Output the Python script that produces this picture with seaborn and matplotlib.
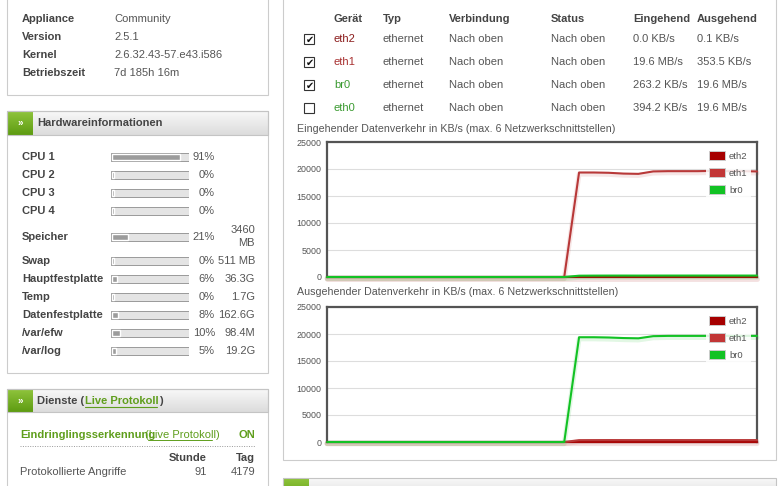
import numpy as np
import pandas as pd
import matplotlib
matplotlib.use("Agg")
import matplotlib.pyplot as plt
import matplotlib.patheffects as pe
from matplotlib.patches import Rectangle
import seaborn as sns

W, H = 779, 486

# ---- data ----
sys_labels = ["Appliance", "Version", "Kernel", "Betriebszeit"]
sys_values = ["Community", "2.5.1", "2.6.32.43-57.e43.i586", "7d 185h 16m"]

hw_labels = ["CPU 1", "CPU 2", "CPU 3", "CPU 4", "Speicher", "Swap",
             "Hauptfestplatte", "Temp", "Datenfestplatte", "/var/efw", "/var/log"]
hw_pct = [91, 0, 0, 0, 21, 0, 6, 0, 8, 10, 5]
hw_size = ["", "", "", "", "3460\nMB", "511 MB", "36.3G", "1.7G", "162.6G", "98.4M", "19.2G"]

if_cols = ["Gerät", "Typ", "Verbindung", "Status", "Eingehend", "Ausgehend"]
if_devices = ["eth2", "eth1", "br0", "eth0"]
if_checked = [True, True, True, False]
if_type = ["ethernet", "ethernet", "ethernet", "ethernet"]
if_link = ["Nach oben", "Nach oben", "Nach oben", "Nach oben"]
if_status = ["Nach oben", "Nach oben", "Nach oben", "Nach oben"]
if_in = ["0.0 KB/s", "19.6 MB/s", "263.2 KB/s", "394.2 KB/s"]
if_out = ["0.1 KB/s", "353.5 KB/s", "19.6 MB/s", "19.6 MB/s"]

t = list(range(30))
in_eth2 = [0, 0, 0, 0, 0, 0, 0, 0, 0, 0, 0, 0, 0, 0, 0, 0, 0,
           0, 0, 0, 0, 0, 0, 0, 0, 0, 0, 0, 0, 0]
in_eth1 = [0, 0, 0, 0, 0, 0, 0, 0, 0, 0, 0, 0, 0, 0, 0, 0, 0,
           19350, 19350, 19300, 19150, 19100, 19550, 19600, 19600, 19600, 19650, 19600, 19600, 19550]
in_br0 = [0, 0, 0, 0, 0, 0, 0, 0, 0, 0, 0, 0, 0, 0, 0, 0, 0,
          240, 255, 260, 262, 258, 260, 263, 262, 264, 263, 262, 263, 263]
out_eth2 = [0, 0, 0, 0, 0, 0, 0, 0, 0, 0, 0, 0, 0, 0, 0, 0, 0,
            0.1, 0.1, 0.1, 0.1, 0.1, 0.1, 0.1, 0.1, 0.1, 0.1, 0.1, 0.1, 0.1]
out_eth1 = [0, 0, 0, 0, 0, 0, 0, 0, 0, 0, 0, 0, 0, 0, 0, 0, 0,
            340, 350, 355, 352, 350, 353, 354, 353, 353, 354, 353, 353, 353]
out_br0 = [0, 0, 0, 0, 0, 0, 0, 0, 0, 0, 0, 0, 0, 0, 0, 0, 0,
           19400, 19400, 19350, 19250, 19200, 19600, 19650, 19650, 19650, 19650, 19650, 19650, 19650]

series = ["eth2", "eth1", "br0"]
palette = {"eth2": "#a60000", "eth1": "#b83838", "br0": "#12c224"}
legend_colors = {"eth2": "#a60000", "eth1": "#c23636", "br0": "#12c224"}
dev_colors = ["#8b1c1c", "#a83030", "#3a9a30", "#3a9a30"]

sns.set_style("white")
plt.rcParams["font.family"] = ["Liberation Sans", "DejaVu Sans"]

fig = plt.figure(figsize=(W / 100, H / 100), dpi=100)
bg = fig.add_axes([0, 0, 1, 1], zorder=-1)
bg.set_xlim(0, W)
bg.set_ylim(H, 0)
bg.axis("off")

LBL = "#444444"
VAL = "#555555"
GREEN = "#5f9e1c"


def grad(x0, x1, y0, y1, c_top, c_bot):
    a = np.array(matplotlib.colors.to_rgb(c_top))
    b = np.array(matplotlib.colors.to_rgb(c_bot))
    k = np.linspace(0, 1, 32)[:, None, None]
    img = a * (1 - k) + b * k
    img = np.repeat(img, 2, axis=1)
    bg.imshow(img, extent=(x0, x1, y1, y0), aspect="auto", zorder=1)


def panel_header(x0, x1, y0, y1, title=None, arrow=True):
    grad(x0 + 26, x1, y0, y1, "#f8f8f8", "#dcdcdc")
    grad(x0, x0 + 26, y0, y1, "#8fc43c", "#5e9c12")
    bg.add_patch(Rectangle((x0, y0), x1 - x0, y1 - y0, fill=False, ec="#c4c4c4", lw=0.8, zorder=2))
    if arrow:
        bg.text(x0 + 13, (y0 + y1) / 2, "»", color="white", fontsize=7, fontweight="bold",
                ha="center", va="center", zorder=3)
    if title:
        bg.text(x0 + 30, (y0 + y1) / 2, title, color=LBL, fontsize=8, fontweight="bold",
                va="center", zorder=3)


def box(x0, x1, y0, y1):
    bg.add_patch(Rectangle((x0, y0), x1 - x0, y1 - y0, fill=False, ec="#cccccc", lw=0.8, zorder=2))


# ---- panel 1: system info ----
box(7, 268, -5, 95)
for i, (lab, val) in enumerate(zip(sys_labels, sys_values)):
    y = 19 + i * 18
    bg.text(22, y, lab, color=LBL, fontsize=8, fontweight="bold", va="center")
    bg.text(114, y, val, color=VAL, fontsize=8, va="center")

# ---- panel 2: hardware ----
box(7, 268, 111, 373)
panel_header(7, 268, 111, 135, "Hardwareinformationen")
hw_y = [157, 175, 193, 211, 237, 261, 279, 297, 315, 333, 351]
for lab, pct, size, y in zip(hw_labels, hw_pct, hw_size, hw_y):
    bg.text(22, y, lab, color=LBL, fontsize=8, fontweight="bold", va="center")
    bg.text(215, y, f"{pct}%", color=VAL, fontsize=8, ha="right", va="center")
    if "\n" in size:
        top, bot = size.split("\n")
        bg.text(255, y - 7, top, color=VAL, fontsize=8, ha="right", va="center")
        bg.text(255, y + 6, bot, color=VAL, fontsize=8, ha="right", va="center")
    elif size:
        bg.text(255, y, size, color=VAL, fontsize=8, ha="right", va="center")

ab = fig.add_axes([111 / W, 1 - 380 / H, 78 / W, 240 / H])
ab.set_xlim(0, 100)
ab.set_ylim(380, 140)
ab.axis("off")
ab.barh(hw_y, [100] * len(hw_y), height=7.5, color="#e4e4e4", edgecolor="#9a9a9a", linewidth=0.7)
ab.barh(hw_y, np.maximum(hw_pct, 3) * 0.95, left=1.4, height=5.2, color="#9c9c9c")

# ---- panel 3: services ----
box(7, 268, 389, 500)
panel_header(7, 268, 389, 412)
bg.text(37, 401, "Dienste (", color=LBL, fontsize=8, fontweight="bold", va="center")
bg.text(85, 401, "Live Protokoll", color=GREEN, fontsize=8, fontweight="bold", va="center")
bg.plot([85, 157], [406.5, 406.5], color=GREEN, lw=0.8)
bg.text(159, 401, ")", color=LBL, fontsize=8, fontweight="bold", va="center")
bg.text(20, 435, "Eindringlingsserkennung", color=GREEN, fontsize=8, fontweight="bold", va="center")
bg.text(145, 435, "(Live Protokoll)", color=GREEN, fontsize=8, va="center")
bg.plot([148, 212], [440, 440], color=GREEN, lw=0.7)
bg.text(255, 435, "ON", color=GREEN, fontsize=8, fontweight="bold", ha="right", va="center")
bg.plot([20, 255], [446, 446], color="#999999", lw=0.7, ls=(0, (1, 1.5)))
bg.text(207, 458, "Stunde", color=LBL, fontsize=8, fontweight="bold", ha="right", va="center")
bg.text(255, 458, "Tag", color=LBL, fontsize=8, fontweight="bold", ha="right", va="center")
bg.text(20, 472, "Protokollierte Angriffe", color=VAL, fontsize=8, va="center")
bg.text(207, 472, "91", color=VAL, fontsize=8, ha="right", va="center")
bg.text(255, 472, "4179", color=VAL, fontsize=8, ha="right", va="center")

# ---- right panel: network ----
box(283, 776, -5, 460)
panel_header(283, 776, 478, 500, arrow=False)
col_x = [334, 383, 449, 551, 633, 697]
for cx, c in zip(col_x, if_cols):
    bg.text(cx, 19, c, color=LBL, fontsize=8, fontweight="bold", va="center")
for i, dev in enumerate(if_devices):
    y = 39 + i * 23
    bg.add_patch(Rectangle((304, y - 5), 10, 10, fc="white", ec="#333333", lw=0.8, zorder=3))
    if if_checked[i]:
        bg.text(309.5, y + 0.5, "✔", family="DejaVu Sans", fontsize=7, color="#111111",
                ha="center", va="center", zorder=4)
    bg.text(col_x[0], y, dev, color=dev_colors[i], fontsize=8, va="center")
    for cx, v in zip(col_x[1:], [if_type[i], if_link[i], if_status[i], if_in[i], if_out[i]]):
        bg.text(cx, y, v, color=VAL, fontsize=8, va="center")

bg.text(297, 129, "Eingehender Datenverkehr in KB/s (max. 6 Netzwerkschnittstellen)",
        color=VAL, fontsize=7.7, va="center")
bg.text(297, 292, "Ausgehender Datenverkehr in KB/s (max. 6 Netzwerkschnittstellen)",
        color=VAL, fontsize=7.7, va="center")

df_in = pd.DataFrame({"t": t * 3, "kbs": in_eth2 + in_eth1 + in_br0,
                      "dev": ["eth2"] * 30 + ["eth1"] * 30 + ["br0"] * 30})
df_out = pd.DataFrame({"t": t * 3, "kbs": out_eth2 + out_eth1 + out_br0,
                       "dev": ["eth2"] * 30 + ["eth1"] * 30 + ["br0"] * 30})


def traffic(df, top):
    ax = fig.add_axes([327 / W, 1 - (top + 135) / H, 430 / W, 135 / H])
    sns.lineplot(data=df, x="t", y="kbs", hue="dev", hue_order=series, palette=palette,
                 ax=ax, legend=False, lw=1.5)
    for ln in ax.get_lines():
        ln.set_zorder(3)
        ln.set_clip_on(False)
        ln.set_path_effects([pe.SimpleLineShadow(offset=(0, -1.2), shadow_color=ln.get_color(),
                                                 alpha=0.12, linewidth=3.5), pe.Normal()])
    ax.set_xlim(0, 29)
    ax.set_ylim(0, 25000)
    ax.set_yticks([0, 5000, 10000, 15000, 20000, 25000])
    ax.set_xticks([])
    ax.set_xlabel("")
    ax.set_ylabel("")
    ax.yaxis.grid(True, color="#dddddd", lw=0.8)
    ax.tick_params(axis="y", labelsize=6.4, colors="#545454", length=0, pad=4)
    for s in ax.spines.values():
        s.set_color("#545454")
        s.set_linewidth(1.6)
    handles = [Rectangle((0, 0), 1, 1, fc=legend_colors[s], ec="#cccccc", lw=0.7) for s in series]
    leg = ax.legend(handles, series, loc="upper right", bbox_to_anchor=(0.985, 0.955), fontsize=6.8,
                    frameon=True, facecolor="white", edgecolor="none", framealpha=0.85,
                    handlelength=1.7, handleheight=1.15, handletextpad=0.4, labelspacing=0.75,
                    borderpad=0.3, borderaxespad=0, labelcolor="#545454", fancybox=False)
    leg.set_zorder(5)
    return ax


traffic(df_in, 142)
traffic(df_out, 307)

fig.savefig("out.png", dpi=100)
